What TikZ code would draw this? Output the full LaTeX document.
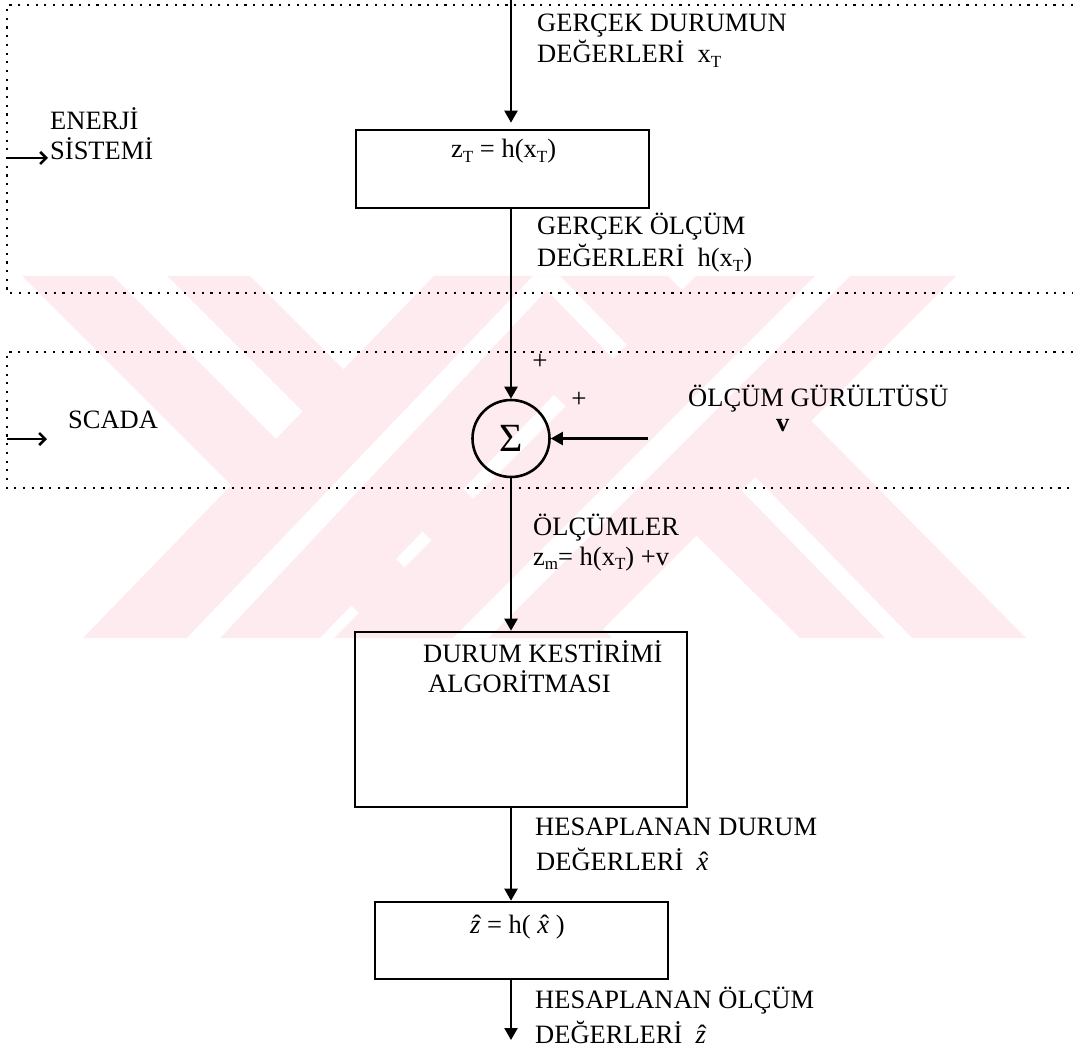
\documentclass[tikz,border=0pt]{standalone}
\usepackage{fontspec}
\setmainfont{Liberation Serif}
\usetikzlibrary{arrows.meta}

\definecolor{wmpink}{RGB}{253,235,239}
\newcommand\lbl{\fontsize{26.5}{32}\selectfont}
\newcommand\subsc[1]{\raisebox{-0.18em}{\fontsize{17}{17}\selectfont #1}}
\newcommand\hatit[1]{{\ooalign{\textit{#1}\cr\hidewidth\kern0.12em\char"02C6\hidewidth\cr}}}

\begin{document}
\begin{tikzpicture}[x=1pt,y=-1pt,
  txt/.style={font=\lbl, inner sep=0pt, anchor=base west},
  sign/.style={font=\fontsize{27}{27}\selectfont, inner sep=0pt},
  procbox/.style={draw, line width=2.6pt, rectangle, inner sep=0pt},
  flow/.style={line width=2.2pt, -{Triangle[length=12pt,width=13pt]}},
  inarrow/.style={line width=2.6pt, -{Straight Barb[length=6pt,width=12pt]}},
  zone/.style={line width=2.4pt, dash pattern=on 2.2pt off 6.5pt},
  ]
\useasboundingbox (0,0) rectangle (1073,1059);

% faint background emblem: crossed stripes
\fill[wmpink] (22,276) -- (250,276) -- (612,638) -- (384,638) -- cycle;
\fill[white] (113,276) -- (167,276) -- (529,638) -- (475,638) -- cycle;
\fill[wmpink] (434,276) -- (668,276) -- (320,638) -- (83,638) -- cycle;
\fill[wmpink] (434,276) -- (668,276) -- (1026,638) -- (800,638) -- cycle;
\fill[white] (533,276) -- (560,276) -- (220,638) -- (187,638) -- cycle;
\fill[white] (533,276) -- (560,276) -- (912,638) -- (885,638) -- cycle;
\fill[wmpink] (696,276) -- (956,276) -- (594,638) -- (334,638) -- cycle;
\fill[white] (815,276) -- (850,276) -- (488,638) -- (453,638) -- cycle;

% dotted zones: power system and SCADA
\draw[zone] (1073,5) -- (7,5) -- (7,293) -- (1073,293);
\draw[zone] (1073,352) -- (7,352) -- (7,488) -- (1073,488);

% blocks
\node[procbox, minimum width=293pt, minimum height=78pt] (meas) at (502.5,169) {};
\node[circle, draw, line width=2.6pt, minimum size=77pt, inner sep=0pt,
      font=\fontsize{40}{40}\selectfont] (sum) at (511,438.5) {Σ};
\node[procbox, minimum width=332pt, minimum height=175pt] (est) at (521,719.5) {};
\node[procbox, minimum width=293pt, minimum height=77pt] (calc) at (521.5,940.5) {};

% free ends
\coordinate (src) at (511,0);
\coordinate (noise) at (648,438.5);
\coordinate (out) at (511,1040);
\coordinate (enIn) at (7,158);
\coordinate (enTip) at (48,158);
\coordinate (scIn) at (7,439);
\coordinate (scTip) at (47,439);

% signal flow
\draw[flow] (src) -- ([yshift=6pt]src |- meas.north);
\draw[flow] (meas.south -| src) -- (sum.north);
\draw[flow] (noise) -- (sum.east);
\draw[flow] (sum.south) -- (sum.south |- est.north);
\draw[flow] (est.south -| sum) -- (calc.north -| sum);
\draw[flow] (calc.south -| sum) -- (out);
\draw[inarrow] (enIn) -- (enTip);
\draw[inarrow] (scIn) -- (scTip);

% labels
\node[txt] (l1a) at (537,32) {GERÇEK DURUMUN};
\node[txt] (l1b) at (537,63) {DEĞERLERİ\ \ x\subsc{T}};
\node[txt] (en1) at (50,130) {ENERJİ};
\node[txt] (en2) at (50,160) {SİSTEMİ};
\node[txt] (measTxt) at (451,158) {z\subsc{T} = h(x\subsc{T})};
\node[txt] (l2a) at (537,235) {GERÇEK ÖLÇÜM};
\node[txt] (l2b) at (537,267) {DEĞERLERİ\ \ h(x\subsc{T})};
\node[sign] (plusA) at (540,362) {+};
\node[sign] (plusB) at (579,400) {+};
\node[txt] (scada) at (68,428) {SCADA};
\node[txt] (nz1) at (688,406) {ÖLÇÜM GÜRÜLTÜSÜ};
\node[txt] (nz2) at (776,431) {\textbf{v}};
\node[txt] (m1) at (533,535) {ÖLÇÜMLER};
\node[txt] (m2) at (533,565) {z\subsc{m}= h(x\subsc{T}) +v};
\node[txt] (e1) at (423,662) {DURUM KESTİRİMİ};
\node[txt] (e2) at (428,692) {ALGORİTMASI};
\node[txt] (h1) at (535,835) {HESAPLANAN DURUM};
\node[txt] (h2) at (536,870) {DEĞERLERİ\ \ \hatit{x}};
\node[txt] (calcTxt) at (470,933) {\hatit{z} = h( \hatit{x} )};
\node[txt] (o1) at (535,1008) {HESAPLANAN ÖLÇÜM};
\node[txt] (o2) at (535,1043) {DEĞERLERİ\ \ \hatit{z}};
\end{tikzpicture}
\end{document}
